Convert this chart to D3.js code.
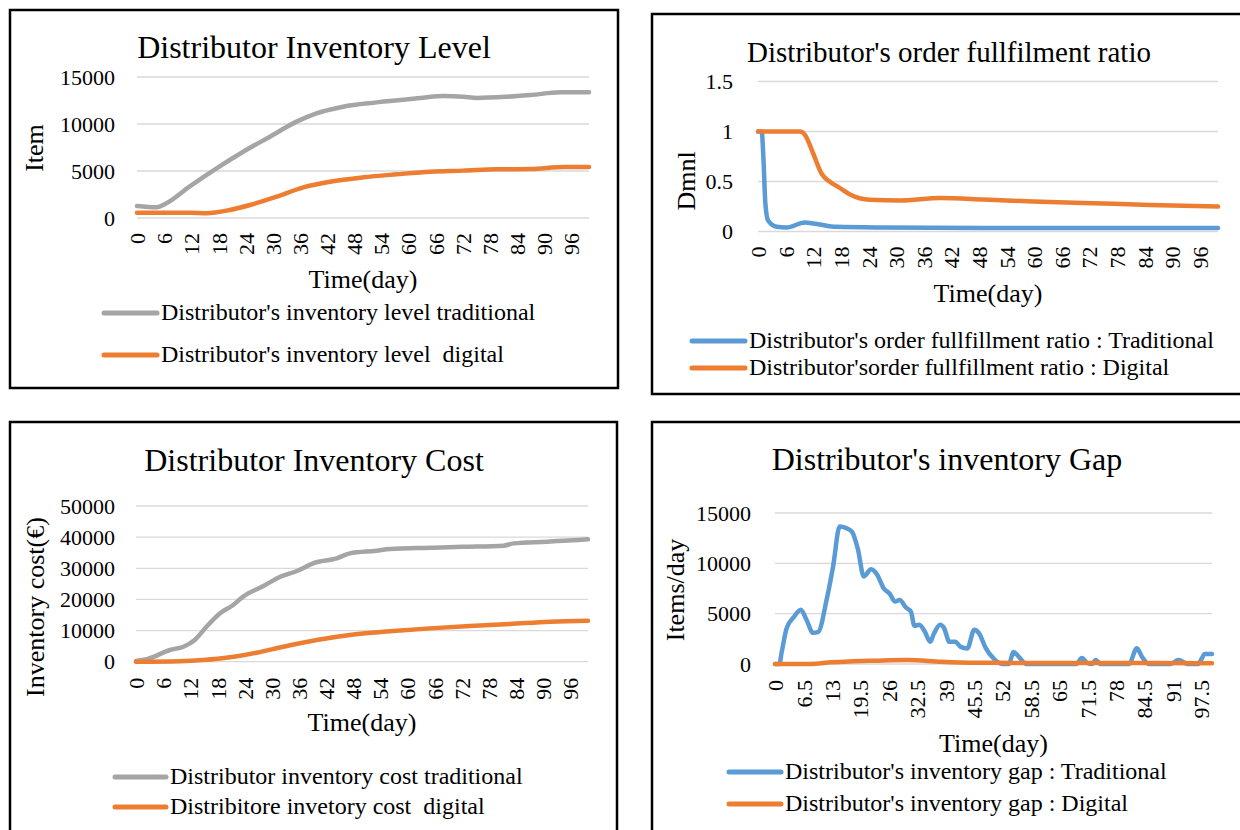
<!DOCTYPE html>
<html>
<head>
<meta charset="utf-8">
<script src="https://cdn.jsdelivr.net/npm/d3@7"></script>
<style>
  body { margin: 0; background: #fff; }
  svg text { font-family: "Liberation Serif", "Times New Roman", serif; fill: #000; }
</style>
</head>
<body>
<svg id="chart" width="1240" height="830"></svg>
<script>
// ---- data ----
const dayTicks = [0, 6, 12, 18, 24, 30, 36, 42, 48, 54, 60, 66, 72, 78, 84, 90, 96];
const gapDayTicks = [0, 6.5, 13, 19.5, 26, 32.5, 39, 45.5, 52, 58.5, 65, 71.5, 78, 84.5, 91, 97.5];

// Distributor Inventory Level
const levelTradDays = [0, 4.3, 6.5, 11.6, 17.6, 23.5, 29.4, 35.3, 39.7, 45.6, 53, 61.9, 67.8, 72.2, 75.2, 81.9, 87, 93.7, 100];
const levelTradVals = [1280, 1140, 1560, 3330, 5280, 7050, 8650, 10250, 11130, 11840, 12300, 12730, 12980, 12900, 12770, 12900, 13080, 13370, 13370];
const levelDigDays = [0, 12, 15.3, 20.5, 25, 30.9, 36.8, 42.7, 50.1, 57.5, 64.9, 72.2, 79.6, 87, 94.4, 100];
const levelDigVals = [570, 560, 510, 850, 1380, 2270, 3260, 3860, 4330, 4650, 4930, 5040, 5180, 5210, 5420, 5430];

// Distributor's order fulfilment ratio
const ratioTradDays = [0, 0.8, 1.2, 1.6, 2.2, 4.1, 6.2, 10.2, 12.8, 17.1, 27.2, 50, 100];
const ratioTradVals = [1, 1, 0.71, 0.28, 0.11, 0.047, 0.04, 0.09, 0.075, 0.047, 0.04, 0.035, 0.035];
const ratioDigDays = [0, 9.1, 10.2, 12, 13.8, 15.7, 17.5, 20, 24.3, 30.9, 39.6, 49, 59.8, 70.7, 85.2, 100];
const ratioDigVals = [1, 1, 0.967, 0.78, 0.58, 0.495, 0.444, 0.37, 0.317, 0.31, 0.334, 0.32, 0.30, 0.286, 0.266, 0.249];

// Distributor Inventory Cost
const costTradDays = [0, 2.4, 7.5, 10.5, 13, 15.6, 18.6, 21.5, 23.7, 28.2, 31.9, 35.6, 39.2, 44.4, 47.3, 53.2, 56.2, 65, 72.4, 81.3, 83.5, 90.9, 94.5, 100];
const costTradVals = [200, 780, 3750, 4820, 6970, 11240, 15550, 18200, 20880, 24300, 27300, 29130, 31600, 33200, 34800, 35650, 36200, 36600, 36900, 37250, 38000, 38550, 38850, 39300];
const costDigDays = [0, 9.7, 14.9, 20.8, 26.7, 32.6, 40, 47.3, 56.2, 65, 73.9, 82.7, 91.6, 100];
const costDigVals = [0, 150, 530, 1400, 2900, 4820, 6970, 8570, 9750, 10700, 11450, 12100, 12850, 13170];

// Distributor's inventory gap
const gapTradDays = [0, 1, 1.5, 2.7, 4.2, 5.9, 7.2, 8.7, 9.9, 11.8, 13.3, 14.8, 16.3, 17.6, 19, 20.3, 22, 23.4, 24.9, 26.2, 27.5, 28.5, 30, 31.1, 31.9, 33, 34.3, 35.5, 36.4, 37.8, 38.7, 39.9, 41.2, 42.5, 44, 45.6, 46.7, 48.2, 50.1, 51.9, 53.5, 54.6, 56, 57.5, 69, 70.2, 71.5, 72.5, 73.4, 74.5, 81, 82.8, 84, 85.5, 90.5, 92.3, 94.5, 96.8, 97.6, 98.3, 100];
const gapTradVals = [0, 0, 1100, 3600, 4600, 5400, 4400, 3100, 3200, 6350, 9700, 13650, 13500, 13150, 11350, 8700, 9400, 8850, 7500, 7000, 6200, 6350, 5600, 5200, 3800, 3900, 3200, 2200, 3050, 3900, 3550, 2200, 2200, 1700, 1550, 3400, 3050, 1600, 500, 0, 0, 1200, 600, 0, 0, 600, 100, 0, 400, 0, 0, 1560, 700, 0, 0, 400, 0, 0, 500, 1000, 1000];
const gapDigDays = [0, 8, 12.9, 17, 22.8, 30.4, 38, 45.6, 55, 70, 85, 100];
const gapDigVals = [0, 0, 170, 260, 330, 400, 230, 130, 110, 100, 100, 80];

const GRAY = '#a5a5a5', ORANGE = '#ed7d31', BLUE = '#5b9bd5';
const FONT = '"Liberation Serif", "Times New Roman", serif';

const svg = d3.select('#chart');
svg.append('rect').attr('width', 1240).attr('height', 830).attr('fill', '#fff');

function drawPanel(p) {
    let g = svg.append('g').style('font-family', FONT);

    // frame
    g.append('rect')
        .attr('x', p.box[0]).attr('y', p.box[1])
        .attr('width', p.box[2]).attr('height', p.box[3])
        .attr('fill', 'none').attr('stroke', '#000').attr('stroke-width', 2.5);

    let x = d3.scaleLinear().domain([0, 100]).range([p.left, p.right]);
    let y = d3.scaleLinear().domain(p.yDomain).range([p.bottom, p.top]);

    // horizontal gridlines
    g.append('g').selectAll('line')
        .data(p.yTicks)
        .join('line')
            .attr('x1', p.left).attr('x2', p.right)
            .attr('y1', d => y(d)).attr('y2', d => y(d))
            .attr('stroke', '#d9d9d9').attr('stroke-width', 1.3);

    // y axis labels
    let ya = g.append('g')
        .attr('transform', `translate(${p.left},0)`)
        .call(d3.axisLeft(y).tickValues(p.yTicks).tickSize(0).tickPadding(p.yPad).tickFormat(d => String(d)))
        .attr('font-family', null)
        .attr('font-size', null);
    ya.select('.domain').remove();
    ya.selectAll('text')
        .style('font-family', FONT)
        .style('font-size', '22px')
        .attr('fill', '#000');

    // x axis labels, rotated
    let xa = g.append('g')
        .attr('transform', `translate(0,${p.bottom})`)
        .call(d3.axisBottom(x).tickValues(p.xTicks).tickSize(0).tickFormat(d => String(d)))
        .attr('font-family', null)
        .attr('font-size', null);
    xa.select('.domain').remove();
    xa.selectAll('text')
        .style('font-family', FONT)
        .style('font-size', '22px')
        .attr('fill', '#000')
        .attr('transform', 'rotate(-90)')
        .attr('text-anchor', 'end')
        .attr('x', -p.xPad)
        .attr('y', 0)
        .attr('dy', '0.35em');

    // title + axis titles
    g.append('text')
        .attr('x', p.titleX).attr('y', p.titleY)
        .attr('text-anchor', 'middle')
        .style('font-size', p.titleSize + 'px')
        .text(p.title);

    g.append('text')
        .attr('transform', `translate(${p.yLabelX},${p.yLabelY}) rotate(-90)`)
        .attr('text-anchor', 'middle')
        .style('font-size', '26px')
        .text(p.yLabel);

    g.append('text')
        .attr('x', (p.left + p.right) / 2).attr('y', p.xLabelY)
        .attr('text-anchor', 'middle')
        .style('font-size', '26px')
        .text('Time(day)');

    // series
    let line = d3.line()
        .x(d => x(d[0]))
        .y(d => y(d[1]))
        .curve(d3.curveMonotoneX);

    p.series.forEach(s => {
        g.append('path')
            .datum(d3.zip(s.days, s.vals))
            .attr('d', line)
            .attr('fill', 'none')
            .attr('stroke', s.color)
            .attr('stroke-width', 4.5)
            .attr('stroke-linecap', 'round')
            .attr('stroke-linejoin', 'round');
    });

    // legend
    let legend = g.append('g')
        .selectAll('g')
        .data(p.series)
        .join('g')
            .attr('transform', (d, i) => `translate(0,${p.legendY[i]})`);

    legend.append('line')
        .attr('x1', p.legendX[0]).attr('x2', p.legendX[1])
        .attr('stroke', d => d.color)
        .attr('stroke-width', 5)
        .attr('stroke-linecap', 'round');

    legend.append('text')
        .attr('x', p.legendX[1] + 4)
        .attr('y', 7)
        .style('font-size', '24px')
        .style('white-space', 'pre')
        .text(d => d.name);
}

drawPanel({
    box: [10, 10, 608, 378],
    left: 137, right: 589, top: 77, bottom: 218,
    yDomain: [0, 15000], yTicks: [0, 5000, 10000, 15000], yPad: 22,
    xTicks: dayTicks, xPad: 15,
    title: 'Distributor Inventory Level', titleX: 314, titleY: 58, titleSize: 32,
    yLabel: 'Item', yLabelX: 43, yLabelY: 148,
    xLabelY: 288,
    legendX: [104, 157], legendY: [313, 355],
    series: [
        {name: "Distributor's inventory level traditional", color: GRAY, days: levelTradDays, vals: levelTradVals},
        {name: "Distributor's inventory level  digital", color: ORANGE, days: levelDigDays, vals: levelDigVals}
    ]
});

drawPanel({
    box: [652, 14, 620, 380],
    left: 758, right: 1218, top: 81.5, bottom: 231.5,
    yDomain: [0, 1.5], yTicks: [0, 0.5, 1, 1.5], yPad: 25,
    xTicks: dayTicks, xPad: 15,
    title: "Distributor's order fullfilment ratio", titleX: 949, titleY: 62, titleSize: 29,
    yLabel: 'Dmnl', yLabelX: 695, yLabelY: 181,
    xLabelY: 302,
    legendX: [692, 745], legendY: [341, 368],
    series: [
        {name: "Distributor's order fullfillment ratio : Traditional", color: BLUE, days: ratioTradDays, vals: ratioTradVals},
        {name: "Distributor'sorder fullfillment ratio : Digital", color: ORANGE, days: ratioDigDays, vals: ratioDigVals}
    ]
});

drawPanel({
    box: [10, 422, 607, 430],
    left: 136, right: 588, top: 506, bottom: 661.7,
    yDomain: [0, 50000], yTicks: [0, 10000, 20000, 30000, 40000, 50000], yPad: 21,
    xTicks: dayTicks, xPad: 16,
    title: 'Distributor Inventory Cost', titleX: 314, titleY: 471, titleSize: 32,
    yLabel: 'Inventory cost(€)', yLabelX: 44, yLabelY: 607,
    xLabelY: 731,
    legendX: [115, 166], legendY: [777, 807],
    series: [
        {name: 'Distributor inventory cost traditional', color: GRAY, days: costTradDays, vals: costTradVals},
        {name: 'Distribitore invetory cost  digital', color: ORANGE, days: costDigDays, vals: costDigVals}
    ]
});

drawPanel({
    box: [652, 422, 620, 430],
    left: 775, right: 1212, top: 513, bottom: 664,
    yDomain: [0, 15000], yTicks: [0, 5000, 10000, 15000], yPad: 24,
    xTicks: gapDayTicks, xPad: 16,
    title: "Distributor's inventory Gap", titleX: 947, titleY: 470, titleSize: 32,
    yLabel: 'Items/day', yLabelX: 684, yLabelY: 590,
    xLabelY: 752,
    legendX: [729, 781], legendY: [772, 804],
    series: [
        {name: "Distributor's inventory gap : Traditional", color: BLUE, days: gapTradDays, vals: gapTradVals},
        {name: "Distributor's inventory gap : Digital", color: ORANGE, days: gapDigDays, vals: gapDigVals}
    ]
});
</script>
</body>
</html>
